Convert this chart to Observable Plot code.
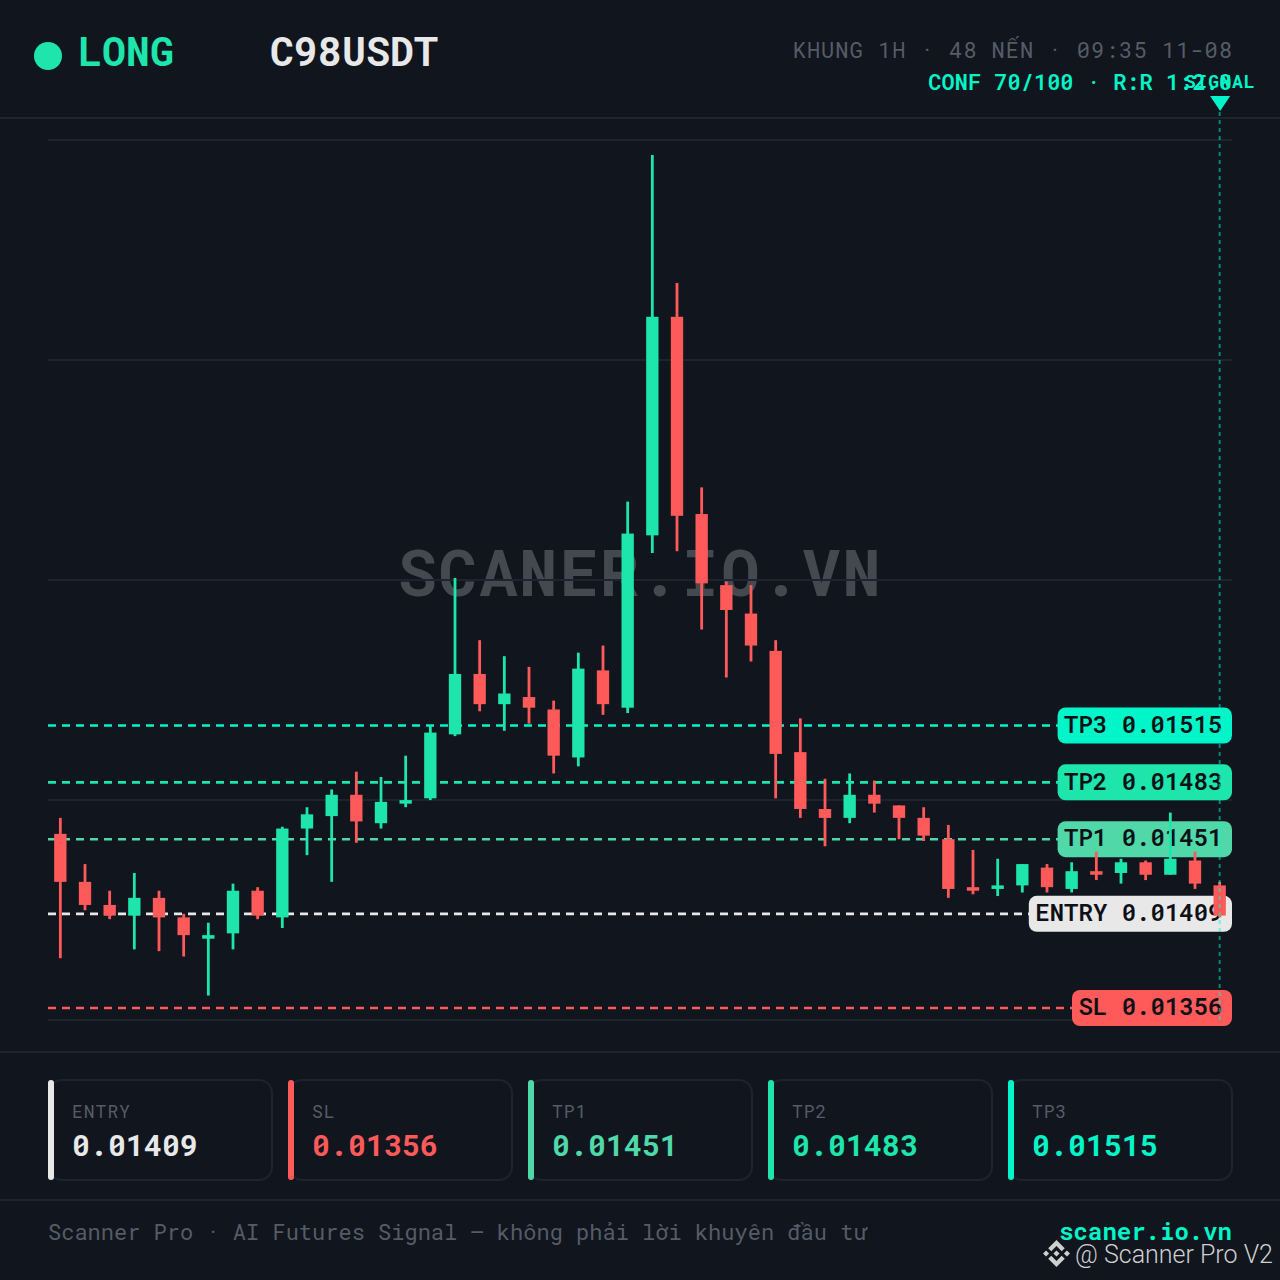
<!DOCTYPE html>
<html lang="vi">
<head>
<meta charset="utf-8">
<title>C98USDT LONG</title>
<script src="https://cdn.jsdelivr.net/npm/d3@7"></script>
<script src="https://cdn.jsdelivr.net/npm/@observablehq/plot@0.6"></script>
<style>
  :root { --mono: "Roboto Mono", "DejaVu Sans Mono", "Liberation Mono", monospace; }
  html, body { margin: 0; padding: 0; background: #10151e; overflow: hidden; }
  #page { position: relative; width: 1280px; height: 1280px; background: #10151e; font-family: var(--mono); }
  #chart { position: absolute; left: 0; top: 0; width: 1280px; height: 1280px; }
  #chart svg { display: block; }
  .t { position: absolute; white-space: pre; line-height: 1; }
  .sep { position: absolute; left: 0; width: 1280px; height: 2px; background: #1c2430; }
  .card { position: absolute; top: 1079px; width: 225px; height: 102px; box-sizing: border-box;
          border: 2px solid #1c2430; border-radius: 14px; }
  .bar { position: absolute; top: 1080px; width: 6px; height: 100px; border-radius: 3px; }
</style>
</head>
<body>
<div id="page"><div id="chart"></div></div>
<script>
// One hourly candle per entry, left to right (48 candles).
const opens  = [0.01454,0.01427,0.01414,0.01408,0.01418,0.01407,0.01395,0.01398,0.01422,0.01407,0.01457,0.01464,0.01476,0.01460,0.01471,0.01474,
                0.01510,0.01544,0.01527,0.01531,0.01524,0.01497,0.01546,0.01525,0.01622,0.01745,0.01634,0.01594,0.01578,0.01557,0.01500,0.01468,
                0.01463,0.01476,0.01470,0.01463,0.01451,0.01424,0.01423,0.01425,0.01435,0.01423,0.01433,0.01432,0.01438,0.01431,0.01439,0.01425];
const closes = [0.01427,0.01414,0.01408,0.01418,0.01407,0.01397,0.01397,0.01422,0.01408,0.01457,0.01465,0.01476,0.01461,0.01472,0.01473,0.01511,
                0.01544,0.01527,0.01533,0.01525,0.01498,0.01547,0.01527,0.01623,0.01745,0.01633,0.01595,0.01580,0.01560,0.01499,0.01468,0.01463,
                0.01476,0.01471,0.01463,0.01453,0.01423,0.01422,0.01425,0.01437,0.01424,0.01433,0.01431,0.01438,0.01431,0.01440,0.01426,0.01408];
const highs  = [0.01463,0.01437,0.01422,0.01432,0.01422,0.01409,0.01404,0.01426,0.01424,0.01458,0.01469,0.01479,0.01489,0.01486,0.01498,0.01515,
                0.01598,0.01563,0.01554,0.01548,0.01529,0.01556,0.01560,0.01641,0.01836,0.01764,0.01649,0.01596,0.01594,0.01563,0.01519,0.01485,
                0.01488,0.01484,0.01470,0.01469,0.01459,0.01445,0.01440,0.01437,0.01437,0.01438,0.01444,0.01440,0.01439,0.01466,0.01444,0.01427];
const lows   = [0.01384,0.01411,0.01406,0.01389,0.01388,0.01385,0.01363,0.01389,0.01406,0.01401,0.01442,0.01427,0.01449,0.01457,0.01469,0.01473,
                0.01509,0.01523,0.01512,0.01516,0.01488,0.01492,0.01521,0.01522,0.01612,0.01613,0.01569,0.01542,0.01551,0.01474,0.01463,0.01447,
                0.01460,0.01466,0.01451,0.01450,0.01418,0.01420,0.01419,0.01421,0.01421,0.01421,0.01428,0.01426,0.01428,0.01431,0.01423,0.01407];

const levelNames  = ["ENTRY", "SL", "TP1", "TP2", "TP3"];
const levelPrices = [0.01409, 0.01356, 0.01451, 0.01483, 0.01515];
const levelColors = ["#e8e8e8", "#ff5a5a", "#50d8a8", "#1de5ab", "#00f5c8"];
const gridPrices  = [0.0134925, 0.0147306, 0.0159687, 0.0172069, 0.018445];
const watermark = "SCANER.IO.VN";
const signalLabel = "SIGNAL";
const headerTimeframe = "KHUNG 1H · 48 NẾN · 09:35 11-08";
const headerConf = "CONF 70/100 · R:R 1:2.0";
const footerNote = "Scanner Pro · AI Futures Signal — không phải lời khuyên đầu tư";
const siteName = "scaner.io.vn";
const feedMark = "@ Scanner Pro V2";

const GREEN = "#1de5ab", RED = "#ff5a5a", ACCENT = "#00f5c8", GRID = "#1c2430";
const MONO = '"Roboto Mono", "DejaVu Sans Mono", "Liberation Mono", monospace';

const candles = opens.map((o, i) => ({
  i, open: o, close: closes[i], high: highs[i], low: lows[i],
  color: closes[i] >= o ? GREEN : RED
}));
const levels = levelNames.map((name, k) => ({
  name, price: levelPrices[k], color: levelColors[k], label: `${name} ${levelPrices[k].toFixed(5)}`
}));

// Scales: one band per candle across the plot; price axis has no drawn ticks.
const xDomain = [-0.5, 47.5], xRange = [48, 1232];
const yDomain = [gridPrices[0], gridPrices[4]], yRange = [1020, 140];
const xUnit = (xDomain[1] - xDomain[0]) / (xRange[1] - xRange[0]);   // index per pixel
const yUnit = (yDomain[1] - yDomain[0]) / (yRange[0] - yRange[1]);   // price per pixel
const lastX = candles.length - 1;
const badgeRight = xDomain[1], textRight = badgeRight - 10 * xUnit;
const charW = 14.4;
const midPrice = (yDomain[0] + yDomain[1]) / 2;
const spaced = (px) => (index, scales, values, dims, ctx, next) => {
  const g = next(index, scales, values, dims, ctx);
  g.querySelectorAll("text").forEach(t => t.style.letterSpacing = px);
  return g;
};

const chart = Plot.plot({
  width: 1280, height: 1280,
  marginTop: 0, marginRight: 0, marginBottom: 0, marginLeft: 0,
  style: { background: "transparent", fontFamily: MONO },
  x: { type: "linear", domain: xDomain, range: xRange, axis: null },
  y: { type: "linear", domain: yDomain, range: yRange, axis: null },
  marks: [
    Plot.text([watermark], {
      x: (xDomain[0] + xDomain[1]) / 2, y: midPrice, text: d => d,
      fontFamily: MONO, fontSize: 64, fontWeight: 700, fill: "#ffffff", fillOpacity: 0.22,
      textAnchor: "middle", lineAnchor: "middle", dy: -5,
      render: spaced("2px")
    }),
    Plot.ruleY(gridPrices, { x1: xDomain[0], x2: xDomain[1], y: d => d, stroke: GRID, strokeWidth: 2, dy: -0.5 }),
    Plot.ruleY(levels, { x1: xDomain[0], x2: xDomain[1], y: "price", stroke: "color", strokeWidth: 2.6, strokeDasharray: "8,6", dy: -0.5 }),
    Plot.rect(levels, {
      x1: d => badgeRight - (d.label.length * charW + 16) * xUnit, x2: badgeRight,
      y1: d => d.price - 18 * yUnit, y2: d => d.price + 18 * yUnit,
      fill: "color", rx: 8, ry: 8
    }),
    Plot.text(levels, {
      x: textRight, y: "price", text: "label", textAnchor: "end", lineAnchor: "middle", dy: -1,
      fontFamily: MONO, fontSize: 24, fontWeight: 600, fill: "#0d1117"
    }),
    Plot.ruleX(candles, { x: "i", y1: "low", y2: "high", stroke: "color", strokeWidth: 2.8, dx: -0.5 }),
    Plot.rect(candles, {
      x1: d => d.i - 0.25, x2: d => d.i + 0.25, y1: "open", y2: "close", fill: "color"
    }),
    Plot.ruleX([lastX], {
      y1: yDomain[0], y2: yDomain[1] + 29 * yUnit,
      stroke: ACCENT, strokeOpacity: 0.5, strokeWidth: 2, strokeDasharray: "4,4", dx: -0.5
    }),
    Plot.dot([lastX], {
      x: d => d, y: yDomain[1] + 37 * yUnit, fill: ACCENT, stroke: "none", r: 10,
      symbol: { draw(c, s) { const r = Math.sqrt(s / Math.PI); c.moveTo(-r, -r * 0.75); c.lineTo(r, -r * 0.75); c.lineTo(0, r * 0.75); c.closePath(); } }
    }),
    Plot.text([signalLabel], {
      x: lastX, y: yDomain[1] + 58 * yUnit, text: d => d, textAnchor: "middle", lineAnchor: "middle",
      fontFamily: MONO, fontSize: 18, fontWeight: 700, fill: ACCENT,
      render: spaced("1px")
    })
  ]
});
document.getElementById("chart").append(chart);

// Header, level cards and footer.
const page = document.getElementById("page");
function put(html, css, cls = "t") {
  const el = document.createElement("div");
  el.className = cls;
  el.innerHTML = html;
  Object.assign(el.style, css);
  page.append(el);
  return el;
}
put("", { top: "117px" }, "sep");
put("", { top: "1051px" }, "sep");
put("", { top: "1199px" }, "sep");
put("", { position: "absolute", left: "34px", top: "42px", width: "28px", height: "28px", borderRadius: "50%", background: GREEN }, "");
put("LONG", { left: "78px", top: "31px", fontSize: "40px", fontWeight: 700, color: GREEN });
put("C98USDT", { left: "270px", top: "31px", fontSize: "40px", fontWeight: 700, color: "#e8e8e8" });
put(headerTimeframe, { right: "47px", top: "39px", fontSize: "22px", letterSpacing: "1px", color: "#565c66" });
put(headerConf, { right: "48px", top: "71px", fontSize: "22px", fontWeight: 600, color: ACCENT });

levels.forEach((d, k) => {
  const left = 48 + k * 240;
  put("", { left: left + "px" }, "card");
  put("", { left: left + "px", background: d.color }, "bar");
  put(d.name, { left: left + 24 + "px", top: "1102px", fontSize: "18px", letterSpacing: "1px", color: "#565c66" });
  put(d.price.toFixed(5), { left: left + 24 + "px", top: "1130px", fontSize: "30px", fontWeight: 700, color: d.color });
});

put(footerNote, { left: "48px", top: "1221px", fontSize: "22px", color: "#565c66" });
put(siteName, { right: "48px", top: "1219px", fontSize: "24px", fontWeight: 700, color: ACCENT });
put(feedMark, { left: "1075px", top: "1242px", fontSize: "25px", fontFamily: "Roboto, sans-serif", fontWeight: 300, color: "#cfcfcf" });
put(`<svg width="27" height="27" viewBox="0 0 24 24" fill="#cfcfcf"><path d="M16.624 13.9202l2.7175 2.7154-7.353 7.353-7.353-7.352 2.7175-2.7164 4.6355 4.6595 4.6356-4.6595zm4.6366-4.6366L24 12l-2.7154 2.7164L18.5682 12l2.6924-2.7164zm-9.272.001l2.7163 2.6914-2.7164 2.7174v-.001L9.2721 12l2.7164-2.7154zm-9.2722-.001L5.4088 12l-2.6914 2.6924L0 12l2.7164-2.7164zM11.9885.0115l7.353 7.329-2.7174 2.7154-4.6356-4.6356-4.6355 4.6595-2.7174-2.7154 7.353-7.353z"/></svg>`,
  { left: "1043px", top: "1240px" });
</script>
</body>
</html>
